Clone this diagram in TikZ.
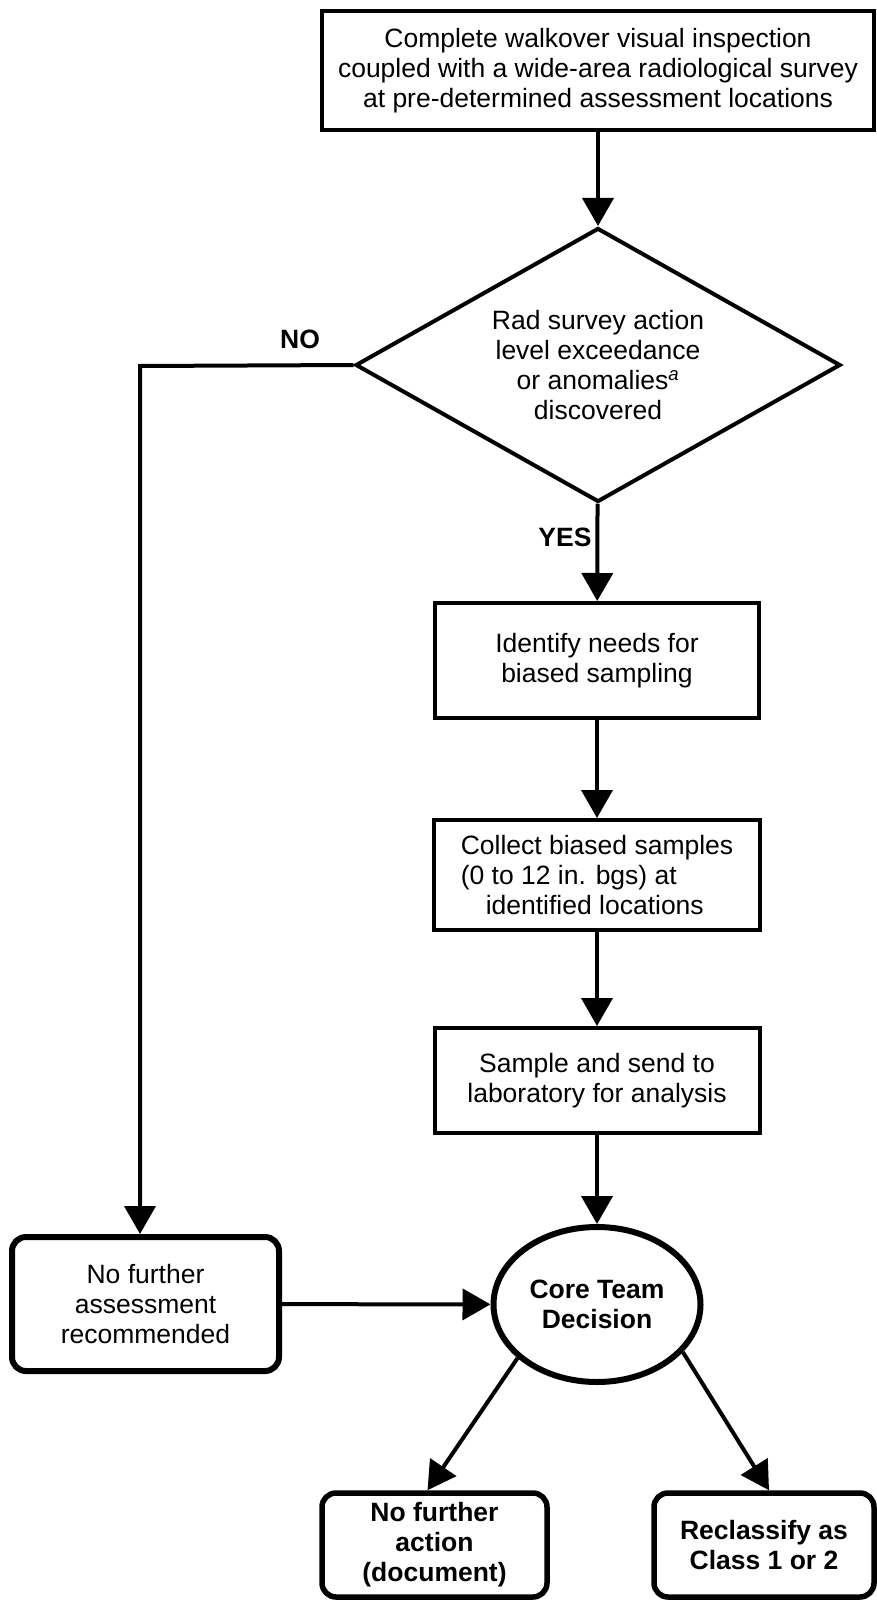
\documentclass[tikz,border=0pt]{standalone}
\usepackage{fontspec}
\setmainfont{Liberation Sans}
\usepackage{tikz}
\usetikzlibrary{shapes.geometric}
\usetikzlibrary{positioning}
\usetikzlibrary{arrows.meta}

\begin{document}
\begin{tikzpicture}[x=1pt, y=-1pt]
	
	% Voreinstellungen
	\tikzset{>={Triangle[length=28pt,width=31pt]}}
	\tikzstyle{schrift}=[font=\fontsize{26.5}{30}\selectfont]
	\tikzstyle{kasten}=[schrift, draw, line width=4pt, align=center, inner sep=0pt]
	\tikzstyle{rundkasten}=[kasten, rounded corners=14pt, line width=5.5pt]
	\tikzstyle{pfeil}=[->, line width=4pt]
	
	\useasboundingbox (0,0) rectangle (876,1600);
	
	% Kasten oben
	\node[kasten, minimum width=552, minimum height=119] (inspect) at (598,70.5)
		{Complete walkover visual inspection\\coupled with a wide-area radiological survey\\at pre-determined assessment locations};
	
	% Raute
	\node[schrift, draw, line width=4pt, diamond, aspect=1.77, inner sep=0pt, align=center,
		minimum width=485, minimum height=274] (radsurvey) at (598,365)
		{Rad survey action\\level exceedance\\or anomalies\textsuperscript{\itshape a}\\discovered};
	
	% Kaesten in der Mitte
	\node[kasten, minimum width=324, minimum height=115] (identify) at (597,660.5)
		{Identify needs for\\biased sampling};
	\node[kasten, align=left, minimum width=326, minimum height=110] (collect) at (597,875)
		{Collect biased samples\\(0 to 12 in. bgs) at\\\hspace*{25pt}identified locations};
	\node[kasten, minimum width=325, minimum height=105] (sample) at (597,1080.5)
		{Sample and send to\\laboratory for analysis};
	
	% Ellipse
	\node[schrift, draw, ellipse, line width=6pt, inner sep=0pt, align=center,
		minimum width=207, minimum height=155, font=\fontsize{26.5}{30}\selectfont\bfseries] (core) at (597,1304.5)
		{Core Team\\Decision};
	
	% Kaesten unten
	\node[rundkasten, line width=6pt, minimum width=267, minimum height=134] (noassess) at (145.5,1304)
		{No further\\assessment\\recommended};
	\node[rundkasten, minimum width=225, minimum height=104, font=\fontsize{26.5}{30}\selectfont\bfseries] (noaction) at (434.5,1545)
		{No further\\action\\(document)};
	\node[rundkasten, minimum width=220, minimum height=104, font=\fontsize{26.5}{30}\selectfont\bfseries] (reclass) at (764,1545)
		{Reclassify as\\Class 1 or 2};
	
	% Beschriftungen
	\node[schrift, font=\fontsize{26.5}{30}\selectfont\bfseries] (nolabel) at (300,339) {NO};
	\node[schrift, font=\fontsize{26.5}{30}\selectfont\bfseries] (yeslabel) at (565,537) {YES};
	
	% Pfeile
	\coordinate (knick) at (140,366);
	\draw[pfeil] (inspect) -- (radsurvey);
	\draw[pfeil] (radsurvey) -- (identify);
	\draw[pfeil] (identify) -- (collect);
	\draw[pfeil] (collect) -- (sample);
	\draw[pfeil] (sample) -- (core);
	\draw[pfeil] (radsurvey.west) -- (knick) -- (knick |- noassess.north);
	\draw[pfeil] (noassess) -- (core);
	\draw[pfeil] (core.214) -- ([xshift=-7pt]noaction.north);
	\draw[pfeil] (core.331) -- ([xshift=5pt]reclass.north);
	
\end{tikzpicture}
\end{document}
